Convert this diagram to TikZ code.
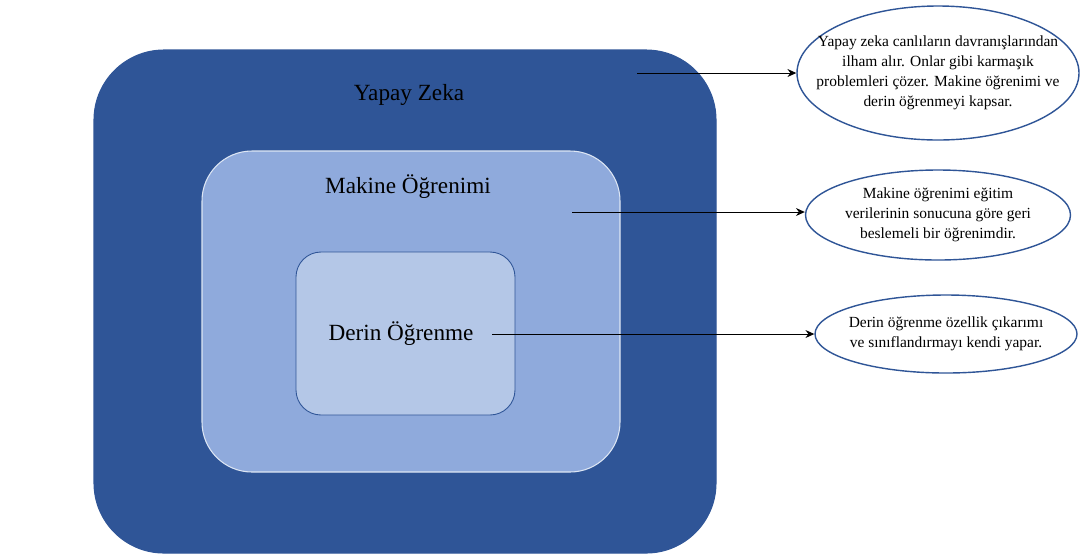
\documentclass[tikz,border=0pt]{standalone}
\usepackage{fontspec}
\setmainfont{Liberation Serif}
\usepackage{tikz}
\usetikzlibrary{positioning, arrows.meta, shapes.geometric}
\definecolor{aiblue}{HTML}{2F5597}
\definecolor{mlblue}{HTML}{8FAADC}
\definecolor{dlblue}{HTML}{B4C7E7}

\begin{document}
\begin{tikzpicture}[
    >={Stealth[length=5pt,width=4.5pt]},
    zone/.style={
        rectangle, inner sep=0pt, line width=0.6pt
    },
    aizone/.style={zone, fill=aiblue, draw=aiblue, rounded corners=1.4cm},
    mlzone/.style={zone, fill=mlblue, draw=white!70!mlblue, rounded corners=1.0cm},
    dlzone/.style={zone, fill=dlblue, draw=aiblue, line width=0.5pt, rounded corners=0.5cm},
    title/.style={font=\fontsize{13.2}{16}\selectfont, text=black},
    note/.style={
        ellipse, draw=aiblue, line width=0.8pt, fill=white,
        inner xsep=-1cm, inner ysep=-0.6cm,
        align=center, font=\fontsize{8.8}{11.4}\selectfont
    },
    arrow/.style={->, line width=0.55pt, color=black},
]
\useasboundingbox (0,0) rectangle (21.62,-11.16);

% ── Nested zones ──────────────────────────────────────────────────────────
\node[aizone, minimum width=12.44cm, minimum height=10.06cm] (ai) at (8.10,-6.03) {};
\node[mlzone, minimum width=8.36cm, minimum height=6.42cm] (ml) at (8.22,-6.23) {};
\node[dlzone, minimum width=4.38cm, minimum height=3.26cm] (dl) at (8.11,-6.67) {};

% ── Zone titles ───────────────────────────────────────────────────────────
\node[title] (aititle) at (8.18,-1.90) {Yapay Zeka};
\node[title] (mltitle) at (8.16,-3.74) {Makine Öğrenimi};
\node[title] (dltitle) at (8.02,-6.68) {Derin Öğrenme};

% ── Notes ─────────────────────────────────────────────────────────────────
\node[note, minimum width=5.64cm, minimum height=2.68cm] (ainote) at (18.76,-1.46)
    {Yapay zeka canlıların davranışlarından\\ilham alır. Onlar gibi karmaşık\\problemleri çözer. Makine öğrenimi ve\\derin öğrenmeyi kapsar.};
\node[note, minimum width=5.30cm, minimum height=1.80cm] (mlnote) at (18.76,-4.30)
    {Makine öğrenimi eğitim\\verilerinin sonucuna göre geri\\beslemeli bir öğrenimdir.};
\node[note, minimum width=5.24cm, minimum height=1.56cm] (dlnote) at (18.92,-6.68)
    {Derin öğrenme özellik çıkarımı\\ve sınıflandırmayı kendi yapar.};

% ── Arrows ────────────────────────────────────────────────────────────────
\coordinate (aistart) at (12.74,-1.46);
\coordinate (mlstart) at (11.44,-4.24);
\coordinate (dlstart) at (9.84,-6.68);
\draw[arrow] (aistart) -- (aistart -| ainote.west);
\draw[arrow] (mlstart) -- (mlstart -| mlnote.west);
\draw[arrow] (dlstart) -- (dlstart -| dlnote.west);

\end{tikzpicture}
\end{document}
